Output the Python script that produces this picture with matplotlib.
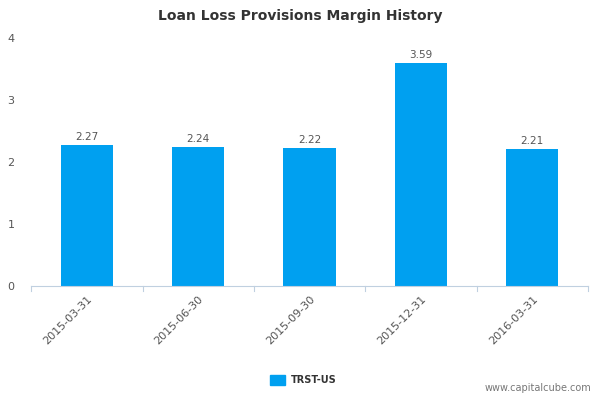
import matplotlib
matplotlib.use("Agg")
import matplotlib.pyplot as plt
import numpy as np

categories = ["2015-03-31", "2015-06-30", "2015-09-30", "2015-12-31", "2016-03-31"]
values = [2.27, 2.24, 2.22, 3.59, 2.21]
series_name = "TRST-US"
yticks = [0, 1, 2, 3, 4]

fig = plt.figure(figsize=(6, 4), dpi=100)
ax = fig.add_axes([0.052, 0.285, 0.928, 0.62])
x = np.arange(len(categories))
ax.bar(x, values, width=0.47, color="#00a0f0")
for xi, v in zip(x, values):
    ax.text(xi, v + 0.05, f"{v:.2f}", ha="center", va="bottom", fontsize=7.5, color="#555555")

ax.set_xlim(-0.5, len(categories) - 0.5)
ax.set_ylim(0, 4)
ax.set_yticks(yticks)
ax.set_yticklabels([str(t) for t in yticks], fontsize=8, color="#555555")
ax.set_xticks(x)
ax.set_xticklabels(categories, rotation=45, ha="right", rotation_mode="anchor", fontsize=8, color="#555555")
ax.tick_params(axis="y", length=0, pad=12)
ax.tick_params(axis="x", length=0, pad=6)
for s in ["top", "right", "left"]:
    ax.spines[s].set_visible(False)
ax.spines["bottom"].set_color("#c0d0e0")
for b in np.arange(-0.5, len(categories), 1.0):
    ax.plot([b, b], [0, -0.08], color="#c0d0e0", lw=0.8, clip_on=False)

fig.text(0.5, 0.96, "Loan Loss Provisions Margin History", ha="center", va="center",
         fontsize=10, fontweight="bold", color="#333333")
fig.patches.append(plt.Rectangle((0.45, 0.037), 0.025, 0.025, transform=fig.transFigure,
                                 color="#00a0f0"))
fig.text(0.485, 0.049, series_name, fontsize=7, fontweight="bold", color="#333333", va="center")
fig.text(0.985, 0.022, "www.capitalcube.com", ha="right", fontsize=7, color="#777777")

fig.savefig("out.png")
